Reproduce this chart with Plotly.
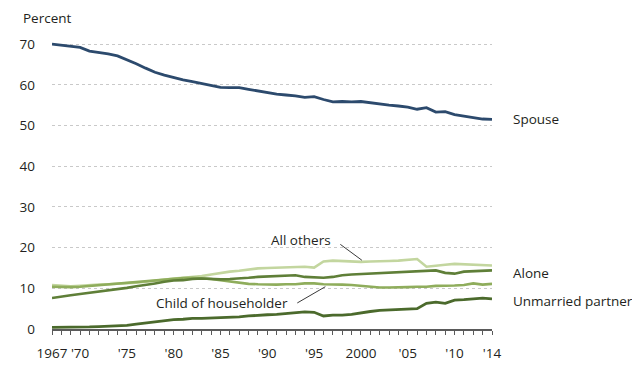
import plotly.graph_objects as go

years = list(range(1967, 2015))

spouse = [70.0, 69.7, 69.5, 69.2, 68.3, 68.0, 67.6, 67.1, 66.2, 65.2,
          64.1, 63.1, 62.4, 61.8, 61.2, 60.8, 60.3, 59.8, 59.4, 59.3,
          59.3, 58.9, 58.5, 58.2, 57.7, 57.5, 57.3, 56.9, 57.1, 56.4,
          55.8, 55.9, 55.8, 55.9, 55.6, 55.2, 55.0, 54.8, 54.5, 54.0,
          54.4, 53.3, 53.4, 52.7, 52.3, 51.9, 51.6, 51.5]

alone = [7.6, 8.0, 8.3, 8.6, 8.9, 9.2, 9.5, 9.7, 10.1, 10.5,
         10.8, 11.2, 11.6, 11.9, 12.0, 12.3, 12.4, 12.3, 12.2, 12.3,
         12.4, 12.6, 12.8, 12.9, 13.0, 13.1, 13.2, 12.8, 12.7, 12.6,
         12.8, 13.2, 13.4, 13.5, 13.6, 13.7, 13.8, 13.9, 14.0, 14.1,
         14.2, 14.4, 13.8, 13.6, 14.1, 14.2, 14.3, 14.4]

child = [10.4, 10.3, 10.3, 10.4, 10.6, 10.8, 11.0, 11.2, 11.4, 11.5,
         11.7, 12.0, 12.2, 12.4, 12.5, 12.6, 12.5, 12.3, 12.0, 11.7,
         11.4, 11.1, 11.0, 10.9, 10.9, 11.0, 11.0, 11.2, 11.2, 11.0,
         11.0, 10.9, 10.8, 10.6, 10.4, 10.2, 10.2, 10.2, 10.3, 10.4,
         10.4, 10.6, 10.6, 10.7, 10.8, 11.2, 10.9, 11.1]

all_others = [10.8, 10.6, 10.5, 10.6, 10.8, 10.9, 11.0, 11.1, 11.3, 11.4,
              11.6, 11.9, 12.1, 12.4, 12.6, 12.8, 13.0, 13.4, 13.8, 14.1,
              14.3, 14.6, 14.9, 15.0, 15.1, 15.2, 15.3, 15.3, 15.1, 16.6,
              16.8, 16.7, 16.6, 16.5, 16.6, 16.6, 16.7, 16.8, 17.0, 17.2,
              15.3, 15.6, 15.8, 16.0, 15.9, 15.8, 15.7, 15.6]

unmarried = [0.4, 0.4, 0.4, 0.5, 0.5, 0.6, 0.7, 0.8, 0.9, 1.2,
             1.5, 1.8, 2.0, 2.3, 2.4, 2.6, 2.6, 2.7, 2.7, 2.9,
             3.0, 3.2, 3.4, 3.5, 3.6, 3.8, 4.0, 4.2, 4.1, 3.2,
             3.4, 3.4, 3.6, 4.0, 4.3, 4.6, 4.7, 4.8, 5.0, 5.0,
             6.3, 6.6, 6.3, 7.1, 7.2, 7.4, 7.6, 7.4]

x_tickvals = [1967, 1970, 1975, 1980, 1985, 1990, 1995, 2000, 2005, 2010, 2014]
x_ticktext = ["1967", "'70", "'75", "'80", "'85", "'90", "'95", "2000", "'05", "'10", "'14"]
y_tickvals = [0, 10, 20, 30, 40, 50, 60, 70]

FONT = "Open Sans"
TXT = "#231f20"

fig = go.Figure()
series = [
    ("All others", all_others, "#c3d69f", 2.6),
    ("Child of householder", child, "#8fad5c", 2.6),
    ("Alone", alone, "#5f7f38", 2.6),
    ("Unmarried partner", unmarried, "#4b6a2c", 2.8),
    ("Spouse", spouse, "#2c4a6d", 2.8),
]
for name, vals, col, w in series:
    fig.add_trace(go.Scatter(x=years, y=vals, mode="lines", name=name,
                             line=dict(color=col, width=w), hoverinfo="skip"))

# right-side labels
for text, yv in [("Spouse", spouse[-1]), ("Alone", 13.8), ("Unmarried partner", 6.8)]:
    fig.add_annotation(x=2014, y=yv, xref="x", yref="y", text=text, showarrow=False,
                       xanchor="left", yanchor="middle", xshift=19,
                       font=dict(family=FONT, size=13.5, color=TXT))

# inline labels with leader lines
fig.add_annotation(x=1990.2, y=21.8, xref="x", yref="y", text="All others", showarrow=False,
                   xanchor="left", yanchor="middle",
                   font=dict(family=FONT, size=13.5, color=TXT))
fig.add_shape(type="line", xref="x", yref="y", x0=1997.8, y0=20.8, x1=2000.1, y1=16.9,
              line=dict(color="#3a3a3a", width=1))
fig.add_annotation(x=1992.4, y=6.5, xref="x", yref="y", text="Child of householder", showarrow=False,
                   xanchor="right", yanchor="middle",
                   font=dict(family=FONT, size=13.5, color=TXT))
fig.add_shape(type="line", xref="x", yref="y", x0=1993.2, y0=6.4, x1=1996.2, y1=10.4,
              line=dict(color="#3a3a3a", width=1))

fig.add_annotation(x=-0.069, y=326 / 298, xref="paper", yref="paper", text="Percent", showarrow=False,
                   xanchor="left", yanchor="top", borderpad=0,
                   font=dict(family=FONT, size=13.5, color=TXT))

fig.update_layout(
    width=632, height=366,
    margin=dict(l=36, r=148, t=28, b=40),
    paper_bgcolor="white", plot_bgcolor="white",
    showlegend=False,
    font=dict(family=FONT, size=13.5, color=TXT),
    xaxis=dict(range=[1967, 2014], tickmode="array", tickvals=x_tickvals, ticktext=x_ticktext,
               showgrid=False, zeroline=False, showline=True, linecolor="#5a5a5a", linewidth=1.5,
               ticks="outside", ticklen=4, tickcolor="#5a5a5a", tickwidth=1,
               minor=dict(dtick=1, tick0=1967, ticks="outside", ticklen=4, tickcolor="#5a5a5a",
                          showgrid=False),
               ticklabelstandoff=7,
               tickfont=dict(family=FONT, size=13.5, color=TXT)),
    yaxis=dict(range=[0, 72], tickmode="array", tickvals=y_tickvals,
               showgrid=True, gridcolor="#c9c9c9", griddash="3px,3px", gridwidth=1,
               zeroline=False, showline=False, ticks="", ticklabelstandoff=16,
               tickfont=dict(family=FONT, size=13.5, color=TXT)),
)

fig.write_html("out.html")
